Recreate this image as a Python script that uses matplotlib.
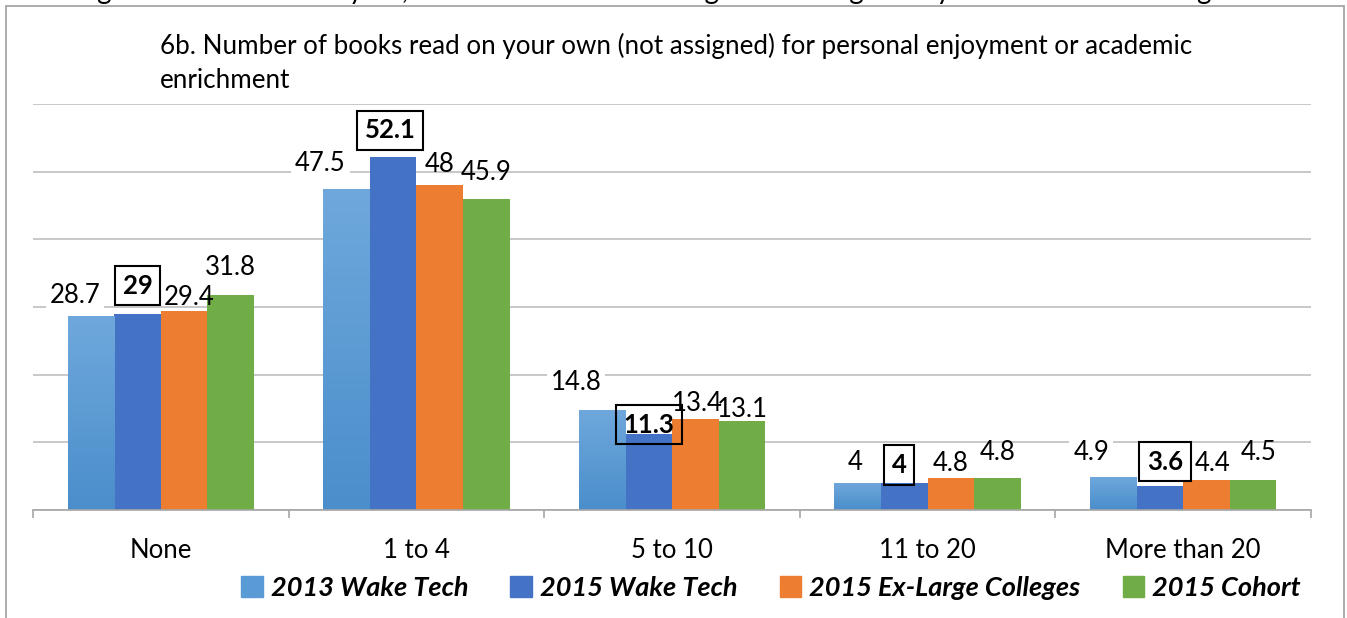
import matplotlib
matplotlib.use('Agg')
import matplotlib.pyplot as plt
import numpy as np
from matplotlib.patches import Rectangle
from matplotlib.colors import LinearSegmentedColormap

# ---------------- data ----------------
categories = ['None', '1 to 4', '5 to 10', '11 to 20', 'More than 20']
series_names = ['2013 Wake Tech', '2015 Wake Tech', '2015 Ex-Large Colleges', '2015 Cohort']
wake_2013 = [28.7, 47.5, 14.8, 4.0, 4.9]
wake_2015 = [29.0, 52.1, 11.3, 4.0, 3.6]
exlarge_2015 = [29.4, 48.0, 13.4, 4.8, 4.4]
cohort_2015 = [31.8, 45.9, 13.1, 4.8, 4.5]
title_line1 = '6b. Number of books read on your own (not assigned) for personal enjoyment or academic'
title_line2 = 'enrichment'
top_cut_text = '6. During the current school year, about how much reading and writing have you done at this college?'

# ---------------- styling ----------------
colors = ['#5B9BD5', '#4472C4', '#ED7D31', '#70AD47']
FONT = ['Lato', 'DejaVu Sans']
plt.rcParams['font.family'] = FONT

# label nudges in pixels (dx, dy) per series per category
nudges = [
    [(-16, 20), (-26, 25), (-26, 27), (-2, 20), (-22, 24)],
    [(0, 28), (-3, 27), (0, 9), (-5, 18), (5, 24)],
    [(5, 14), (0, 21), (2, 16), (0, 14), (6, 17)],
    [(0, 27), (0, 27), (0, 12), (0, 25), (5, 27)],
]

W, H, DPI = 1347, 618, 100
fig = plt.figure(figsize=(W / DPI, H / DPI), dpi=DPI)

# outer frame
fig.patches.append(Rectangle((6 / W, -0.01), (1344 - 6) / W, 1 - 6 / H + 0.01,
                             transform=fig.transFigure, fill=False,
                             edgecolor='#A6A6A6', linewidth=1.3))
# cut-off text at the very top (partly outside the figure, as in the reference)
fig.text(-2 / W, 1 + 9 / H, top_cut_text, ha='left', va='center', fontsize=20, color='black')

ax = fig.add_axes([33 / W, 1 - 510 / H, (1311 - 33) / W, (510 - 104) / H])
x = np.arange(len(categories))
bw = 0.1825
all_series = [wake_2013, wake_2015, exlarge_2015, cohort_2015]
bar_groups = []
for i, vals in enumerate(all_series):
    bars = ax.bar(x + (i - 1.5) * bw, vals, width=bw, color=colors[i], zorder=2, linewidth=0)
    bar_groups.append(bars)

# gradient for 2013 bars
cmap = LinearSegmentedColormap.from_list('g', ['#4A8ECB', '#6FA8DC'])
grad = np.linspace(0, 1, 256).reshape(-1, 1)
for b in bar_groups[0]:
    im = ax.imshow(grad, cmap=cmap, origin='lower', aspect='auto', zorder=2.1,
                   extent=[b.get_x(), b.get_x() + b.get_width(), 0, b.get_height()])
    im.set_clip_path(b)

ax.set_xlim(-0.5, len(categories) - 0.5)
ax.set_ylim(0, 60)
ax.set_yticks(np.arange(0, 61, 10))
ax.yaxis.grid(True, color='#BFBFBF', linewidth=1.2, zorder=0)
ax.set_axisbelow(True)
ax.tick_params(axis='y', length=0, labelleft=False)
for s in ['left', 'right', 'top']:
    ax.spines[s].set_visible(False)
ax.spines['bottom'].set_color('#A6A6A6')
ax.spines['bottom'].set_linewidth(1.2)
ax.set_xticks(x)
ax.set_xticklabels(categories, fontsize=18.5)
ax.tick_params(axis='x', which='major', length=0, pad=20)
ax.set_xticks(np.arange(-0.5, len(categories), 1.0), minor=True)
ax.tick_params(axis='x', which='minor', length=6, width=1.2, color='#A6A6A6', direction='out')

# value labels
for i, bars in enumerate(bar_groups):
    for j, b in enumerate(bars):
        v = all_series[i][j]
        txt = f'{v:g}'
        dx, dy = nudges[i][j]
        kw = dict(ha='center', va='center', fontsize=18.5, zorder=5,
                  textcoords='offset pixels')
        if i == 0:
            kw['bbox'] = dict(boxstyle='square,pad=0.15', fc='white', ec='none')
        elif i == 1:
            kw['fontweight'] = 'bold'
            kw['bbox'] = dict(boxstyle='square,pad=0.3', fc='none', ec='black', lw=1.5)
        ax.annotate(txt, xy=(b.get_x() + b.get_width() / 2, b.get_height()),
                    xytext=(dx, dy), **kw)

# title
fig.text(160 / W, 1 - 46 / H, title_line1, ha='left', va='center', fontsize=18.7)
fig.text(160 / W, 1 - 80 / H, title_line2, ha='left', va='center', fontsize=18.7)

# legend
handles = [Rectangle((0, 0), 1, 1, color=c) for c in colors]
fig.legend(handles, series_names, loc='center', bbox_to_anchor=(771 / W, 1 - 588 / H),
           ncol=4, frameon=False,
           prop=dict(family=FONT, weight='bold', style='italic', size=19.5),
           handlelength=0.8, handleheight=0.8, handletextpad=0.3, columnspacing=1.55)

fig.savefig('out.png', dpi=DPI)
